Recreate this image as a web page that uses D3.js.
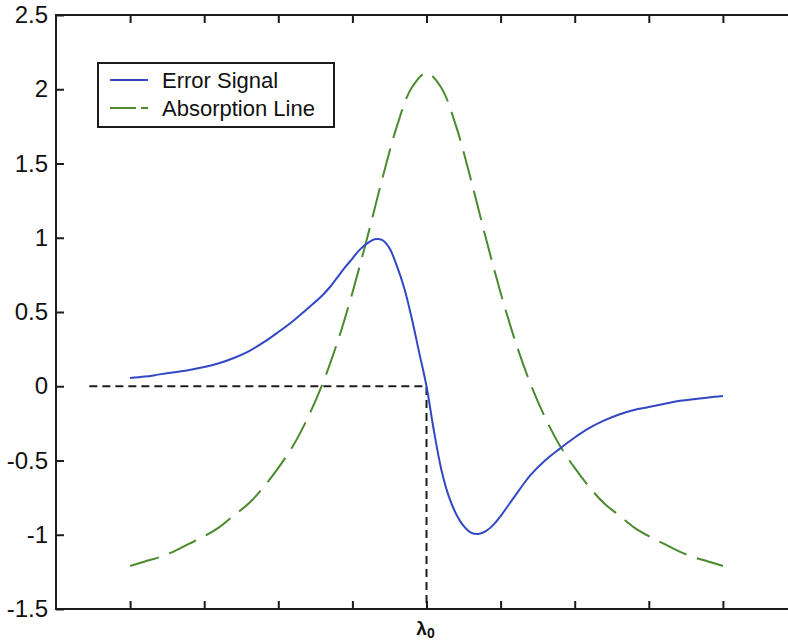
<!DOCTYPE html>
<html>
<head>
<meta charset="utf-8">
<script src="https://cdn.jsdelivr.net/npm/d3@7"></script>
<style>
  body { margin: 0; background: #fff; }
  svg { display: block; }
</style>
</head>
<body>
<div id="chart"></div>
<script>
// x positions in detuning units, lambda0 at 0
const absX = [-4, -3.8, -3.6, -3.4, -3.2, -3, -2.8, -2.6, -2.4, -2.2, -2, -1.8, -1.6, -1.4, -1.2, -1, -0.8, -0.6, -0.4, -0.2,
  0, 0.2, 0.4, 0.6, 0.8, 1, 1.2, 1.4, 1.6, 1.8, 2, 2.2, 2.4, 2.6, 2.8, 3, 3.2, 3.4, 3.6, 3.8, 4];
const absY = [-1.21, -1.18, -1.15, -1.11, -1.06, -1.01, -0.95, -0.87, -0.79, -0.68, -0.55, -0.40, -0.21, 0.02, 0.30, 0.63, 1.00, 1.39, 1.75, 2.01,
  2.11, 2.01, 1.75, 1.39, 1.00, 0.63, 0.30, 0.02, -0.21, -0.40, -0.55, -0.68, -0.79, -0.87, -0.95, -1.01, -1.06, -1.11, -1.15, -1.18, -1.21];

const errX = [-4, -3.8, -3.6, -3.4, -3.2, -3, -2.8, -2.6, -2.4, -2.2, -2, -1.8, -1.6, -1.4, -1.3, -1.2, -1.1, -1, -0.9, -0.8, -0.7, -0.6, -0.5, -0.4, -0.3, -0.2, -0.1,
  0, 0.1, 0.2, 0.3, 0.4, 0.5, 0.6, 0.7, 0.8, 0.9, 1, 1.1, 1.2, 1.3, 1.4, 1.6, 1.8, 2, 2.2, 2.4, 2.6, 2.8, 3, 3.2, 3.4, 3.6, 3.8, 4];
const errY = [0.055, 0.065, 0.08, 0.095, 0.11, 0.13, 0.155, 0.19, 0.235, 0.295, 0.365, 0.44, 0.525, 0.615, 0.67, 0.735, 0.80, 0.86, 0.92, 0.962, 0.99, 0.985, 0.93, 0.81, 0.66, 0.46, 0.23,
  0, -0.30, -0.56, -0.74, -0.86, -0.94, -0.985, -0.995, -0.975, -0.935, -0.875, -0.805, -0.735, -0.665, -0.60, -0.50, -0.42, -0.345, -0.28, -0.23, -0.19, -0.16, -0.14, -0.12, -0.10, -0.088, -0.075, -0.065];

// black dashed guide: zero level to lambda0, then down to the axis
const guideX = [-4.55, 0, 0];
const guideY = [0, 0, -1.5];

const yTicks = [-1.5, -1, -0.5, 0, 0.5, 1, 1.5, 2, 2.5];
const xTicks = [-4, -3, -2, -1, 0, 1, 2, 3, 4];
const seriesNames = ["Error Signal", "Absorption Line"];

const W = 788, H = 641;
const margin = { top: 15, right: -9, bottom: 32, left: 56 };
const width = W - margin.left - margin.right;
const height = H - margin.top - margin.bottom;

const blue = "#3247c4", green = "#4b8a2f", ink = "#1c1c1c";

const svg = d3.select("#chart").append("svg")
    .attr("width", W)
    .attr("height", H);

const g = svg.append("g")
    .attr("transform", "translate(" + margin.left + "," + margin.top + ")");

const x = d3.scaleLinear().domain([-5, 5]).range([0, width]);
const y = d3.scaleLinear().domain([-1.5, 2.5]).range([height, 0]);

// frame
g.append("rect")
    .attr("width", width)
    .attr("height", height)
    .attr("fill", "none")
    .attr("stroke", ink)
    .attr("stroke-width", 2);

const yAxis = d3.axisLeft(y).tickValues(yTicks).tickSizeInner(-8).tickSizeOuter(0).tickPadding(8)
    .tickFormat(d => String(d));
const yg = g.append("g").call(yAxis);
yg.select(".domain").remove();
yg.selectAll(".tick line").attr("stroke", ink).attr("stroke-width", 2);
yg.selectAll(".tick text")
    .attr("fill", "#111")
    .style("font-family", "Arial, 'Liberation Sans', sans-serif")
    .style("font-size", "24px");

const xb = g.append("g")
    .attr("transform", "translate(0," + height + ")")
    .call(d3.axisBottom(x).tickValues(xTicks).tickSizeInner(-8).tickSizeOuter(0).tickFormat(""));
const xt = g.append("g")
    .call(d3.axisTop(x).tickValues(xTicks).tickSizeInner(-8).tickSizeOuter(0).tickFormat(""));
[xb, xt].forEach(a => {
    a.select(".domain").remove();
    a.selectAll(".tick line").attr("stroke", ink).attr("stroke-width", 2);
});

// lambda0 label
const lam = g.append("text")
    .attr("x", x(0) - 1)
    .attr("y", height + 26)
    .attr("text-anchor", "middle")
    .attr("fill", "#111")
    .style("font-family", "Arial, 'Liberation Sans', sans-serif")
    .style("font-weight", "bold")
    .style("font-size", "19px");
lam.append("tspan").text("λ");
lam.append("tspan").attr("dy", 3).style("font-size", "14px").text("0");

const line = d3.line()
    .x(d => x(d[0]))
    .y(d => y(d[1]));

g.append("path")
    .datum(d3.zip(guideX, guideY))
    .attr("d", d3.line().x(d => x(d[0])).y(d => y(d[1])))
    .attr("fill", "none")
    .attr("stroke", ink)
    .attr("stroke-width", 2)
    .attr("stroke-dasharray", "8,5");

g.append("path")
    .datum(d3.zip(absX, absY))
    .attr("d", line.curve(d3.curveCatmullRom))
    .attr("fill", "none")
    .attr("stroke", green)
    .attr("stroke-width", 2)
    .attr("stroke-dasharray", "30,11");

g.append("path")
    .datum(d3.zip(errX, errY))
    .attr("d", line.curve(d3.curveCatmullRom))
    .attr("fill", "none")
    .attr("stroke", blue)
    .attr("stroke-width", 2);

// legend
const lg = svg.append("g").attr("transform", "translate(98,63)");
lg.append("rect")
    .attr("width", 236)
    .attr("height", 64)
    .attr("fill", "#fff")
    .attr("stroke", ink)
    .attr("stroke-width", 2);
seriesNames.forEach((name, i) => {
    const yy = 17 + i * 28;
    lg.append("line")
        .attr("x1", 12).attr("x2", 50)
        .attr("y1", yy).attr("y2", yy)
        .attr("stroke", i === 0 ? blue : green)
        .attr("stroke-width", 2)
        .attr("stroke-dasharray", i === 0 ? null : "26,5");
    lg.append("text")
        .attr("x", 64)
        .attr("y", yy + 8)
        .attr("fill", "#111")
        .style("font-family", "Arial, 'Liberation Sans', sans-serif")
        .style("font-size", "22px")
        .text(name);
});
</script>
</body>
</html>
